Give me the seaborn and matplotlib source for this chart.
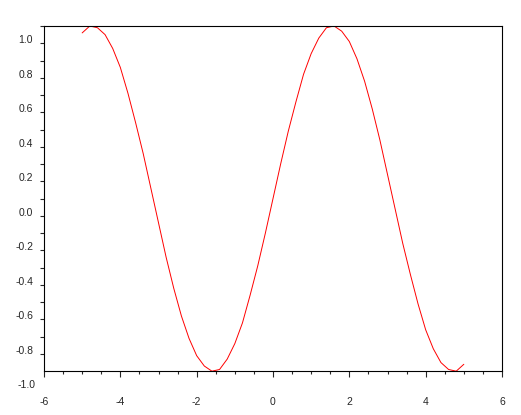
import numpy as np
import matplotlib
matplotlib.use("Agg")
import matplotlib.pyplot as plt
import seaborn as sns
from matplotlib.ticker import MultipleLocator

# values
x_vals = [-5.0, -4.8, -4.6, -4.4, -4.2, -4.0, -3.8, -3.6, -3.4, -3.2,
          -3.0, -2.8, -2.6, -2.4, -2.2, -2.0, -1.8, -1.6, -1.4, -1.2,
          -1.0, -0.8, -0.6, -0.4, -0.2, 0.0, 0.2, 0.4, 0.6, 0.8,
          1.0, 1.2, 1.4, 1.6, 1.8, 2.0, 2.2, 2.4, 2.6, 2.8,
          3.0, 3.2, 3.4, 3.6, 3.8, 4.0, 4.2, 4.4, 4.6, 4.8, 5.0]
y_vals = [1.06, 1.10, 1.09, 1.05, 0.97, 0.86, 0.71, 0.54, 0.36, 0.16,
          -0.04, -0.24, -0.42, -0.58, -0.71, -0.81, -0.87, -0.90, -0.89, -0.83,
          -0.74, -0.62, -0.46, -0.29, -0.10, 0.10, 0.30, 0.49, 0.66, 0.82,
          0.94, 1.03, 1.09, 1.10, 1.07, 1.01, 0.91, 0.78, 0.62, 0.44,
          0.24, 0.04, -0.16, -0.34, -0.51, -0.66, -0.77, -0.85, -0.89, -0.90, -0.86]

x_ticks = [-6, -4, -2, 0, 2, 4, 6]
y_ticks = [-0.8, -0.6, -0.4, -0.2, 0.0, 0.2, 0.4, 0.6, 0.8, 1.0]

sns.set_style("ticks")
plt.rcParams["font.family"] = ["Liberation Sans", "DejaVu Sans"]
plt.rcParams["font.size"] = 7.5

fig = plt.figure(figsize=(5.21, 4.15), dpi=100)
ax = fig.add_axes([44 / 521, 1 - 370.5 / 415, 458 / 521, 344.5 / 415])

sns.lineplot(x=x_vals, y=y_vals, color="red", linewidth=0.7, ax=ax)

ax.set_xlim(-6, 6)
ax.set_ylim(-0.896, 1.10)
ax.set_xticks(x_ticks)
ax.set_xticklabels([f"{t:d}" for t in x_ticks])
ax.set_yticks(y_ticks)
ax.set_yticklabels([f"{t:.1f}" for t in y_ticks])
ax.xaxis.set_minor_locator(MultipleLocator(0.5))
ax.yaxis.set_minor_locator(MultipleLocator(0.1))

for s in ax.spines.values():
    s.set_linewidth(0.8)
    s.set_color("black")

ax.tick_params(axis="x", which="major", direction="out", length=4, width=0.8, pad=15)
ax.tick_params(axis="x", which="minor", direction="out", length=2.2, width=0.8)
ax.tick_params(axis="y", which="both", direction="out", length=2.8, width=0.8, pad=5)
for lab in ax.get_yticklabels():
    lab.set_va("baseline")

# scilab also prints the -1.0 label below the frame
ax.text(-8 / 458, -1.0, "-1.0", transform=ax.get_yaxis_transform(),
        ha="right", va="baseline", clip_on=False)

ax.set_xlabel("")
ax.set_ylabel("")
fig.savefig("out.png", dpi=100)
